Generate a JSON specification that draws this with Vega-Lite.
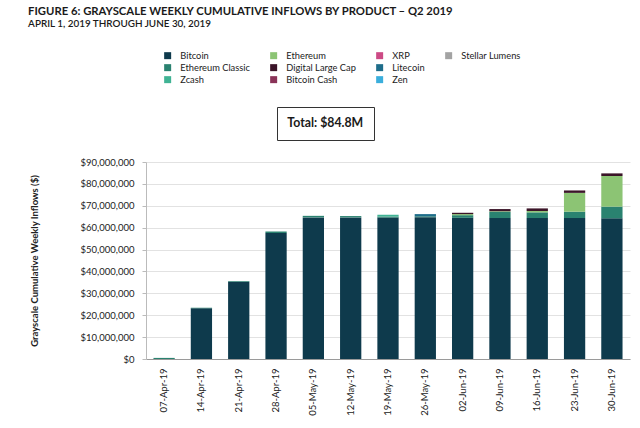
{
  "$schema": "https://vega.github.io/schema/vega-lite/v6.json",
  "autosize": {"type": "none"},
  "width": 484,
  "height": 197,
  "padding": {"left": 146, "top": 162, "right": 10, "bottom": 69},
  "background": "white",
  "config": {
    "font": "Lato",
    "view": {"stroke": null}
  },
  "title": {
    "text": "FIGURE 6: GRAYSCALE WEEKLY CUMULATIVE INFLOWS BY PRODUCT – Q2 2019",
    "subtitle": "APRIL 1, 2019 THROUGH JUNE 30, 2019",
    "anchor": "start",
    "frame": "bounds",
    "dx": -1,
    "font": "Lato",
    "fontSize": 11.3,
    "fontWeight": "bold",
    "color": "#1a1a1a",
    "subtitleFont": "Lato",
    "subtitleFontSize": 9.9,
    "subtitleFontWeight": 600,
    "subtitleColor": "#1a1a1a",
    "subtitlePadding": 2,
    "offset": 22
  },
  "data": {
    "values": [
      {"week": "07-Apr-19", "product": "Ethereum Classic", "inflow": 500000},
      {"week": "14-Apr-19", "product": "Bitcoin", "inflow": 23200000},
      {"week": "14-Apr-19", "product": "Ethereum Classic", "inflow": 200000},
      {"week": "21-Apr-19", "product": "Bitcoin", "inflow": 35300000},
      {"week": "21-Apr-19", "product": "Ethereum Classic", "inflow": 300000},
      {"week": "28-Apr-19", "product": "Bitcoin", "inflow": 57600000},
      {"week": "28-Apr-19", "product": "Ethereum Classic", "inflow": 600000},
      {"week": "05-May-19", "product": "Bitcoin", "inflow": 64700000},
      {"week": "05-May-19", "product": "Ethereum Classic", "inflow": 700000},
      {"week": "12-May-19", "product": "Bitcoin", "inflow": 64700000},
      {"week": "12-May-19", "product": "Ethereum Classic", "inflow": 600000},
      {"week": "19-May-19", "product": "Bitcoin", "inflow": 64600000},
      {"week": "19-May-19", "product": "Ethereum Classic", "inflow": 500000},
      {"week": "19-May-19", "product": "Zcash", "inflow": 800000},
      {"week": "26-May-19", "product": "Bitcoin", "inflow": 64800000},
      {"week": "26-May-19", "product": "Ethereum Classic", "inflow": 400000},
      {"week": "26-May-19", "product": "Litecoin", "inflow": 1000000},
      {"week": "02-Jun-19", "product": "Bitcoin", "inflow": 64500000},
      {"week": "02-Jun-19", "product": "Ethereum Classic", "inflow": 1200000},
      {"week": "02-Jun-19", "product": "Ethereum", "inflow": 500000},
      {"week": "02-Jun-19", "product": "Digital Large Cap", "inflow": 600000},
      {"week": "09-Jun-19", "product": "Bitcoin", "inflow": 64400000},
      {"week": "09-Jun-19", "product": "Ethereum Classic", "inflow": 2800000},
      {"week": "09-Jun-19", "product": "Ethereum", "inflow": 300000},
      {"week": "09-Jun-19", "product": "Digital Large Cap", "inflow": 1000000},
      {"week": "16-Jun-19", "product": "Bitcoin", "inflow": 64400000},
      {"week": "16-Jun-19", "product": "Ethereum Classic", "inflow": 2600000},
      {"week": "16-Jun-19", "product": "Ethereum", "inflow": 600000},
      {"week": "16-Jun-19", "product": "Digital Large Cap", "inflow": 1200000},
      {"week": "23-Jun-19", "product": "Bitcoin", "inflow": 64400000},
      {"week": "23-Jun-19", "product": "Ethereum Classic", "inflow": 2900000},
      {"week": "23-Jun-19", "product": "Ethereum", "inflow": 8600000},
      {"week": "23-Jun-19", "product": "Digital Large Cap", "inflow": 1100000},
      {"week": "30-Jun-19", "product": "Bitcoin", "inflow": 64300000},
      {"week": "30-Jun-19", "product": "Ethereum Classic", "inflow": 5300000},
      {"week": "30-Jun-19", "product": "Ethereum", "inflow": 14000000},
      {"week": "30-Jun-19", "product": "Digital Large Cap", "inflow": 1200000}
    ]
  },
  "transform": [
    {"calculate": "indexof(['Bitcoin','Ethereum Classic','Zcash','Litecoin','Ethereum','Digital Large Cap'], datum.product)", "as": "stackRank"}
  ],
  "mark": {"type": "bar"},
  "encoding": {
    "x": {
      "field": "week",
      "type": "ordinal",
      "sort": null,
      "scale": {"paddingInner": 0.43, "paddingOuter": 0.2},
      "axis": {
        "title": null,
        "labelAngle": 270,
        "labelAlign": "right",
        "labelBaseline": "middle",
        "labelFontSize": 9.5,
        "labelColor": "#222",
        "labelPadding": 9,
        "ticks": false,
        "domainColor": "#9a9a9a",
        "grid": false
      }
    },
    "y": {
      "field": "inflow",
      "type": "quantitative",
      "aggregate": "sum",
      "stack": "zero",
      "scale": {"domain": [0, 90000000]},
      "axis": {
        "title": "Grayscale Cumulative Weekly Inflows ($)",
        "titleFontSize": 9.5,
        "titleFontWeight": "bold",
        "titleColor": "#222",
        "titlePadding": 41,
        "values": [0, 10000000, 20000000, 30000000, 40000000, 50000000, 60000000, 70000000, 80000000, 90000000],
        "format": "$,.0f",
        "labelFontSize": 9.5,
        "labelColor": "#222",
        "labelPadding": 8,
        "tickSize": 4,
        "tickColor": "#bbb",
        "domainColor": "#bbb",
        "gridColor": "#e2e2e2"
      }
    },
    "order": {"field": "stackRank", "type": "quantitative", "aggregate": "min", "sort": "ascending"},
    "color": {
      "field": "product",
      "type": "nominal",
      "scale": {
        "domain": ["Bitcoin", "Ethereum Classic", "Zcash", "Ethereum", "Digital Large Cap", "Bitcoin Cash", "XRP", "Litecoin", "Zen", "Stellar Lumens", " "],
        "range": ["#0e3a4c", "#2a8270", "#40b394", "#8cc474", "#3b1428", "#8a3358", "#cc4a85", "#1e6d8a", "#3aaedc", "#a3a3a3", "#ffffff"]
      },
      "legend": {
        "title": null,
        "orient": "none",
        "legendX": 17,
        "legendY": -111,
        "columns": 4,
        "columnPadding": 19,
        "rowPadding": 2,
        "symbolType": "square",
        "symbolSize": 49,
        "symbolStrokeWidth": 0,
        "labelOffset": 8,
        "labelFontSize": 9.3,
        "labelColor": "#222"
      }
    },
    "stroke": {
      "datum": "Total: $84.8M",
      "type": "nominal",
      "scale": {"range": ["transparent"]},
      "legend": {
        "title": null,
        "orient": "none",
        "legendX": 131,
        "legendY": -55,
        "symbolSize": 0,
        "symbolOpacity": 0,
        "symbolStrokeWidth": 0,
        "labelOffset": -12,
        "labelFontSize": 12.3,
        "labelFontWeight": "bold",
        "labelColor": "#1a1a1a",
        "padding": 10,
        "strokeColor": "#333"
      }
    }
  }
}
